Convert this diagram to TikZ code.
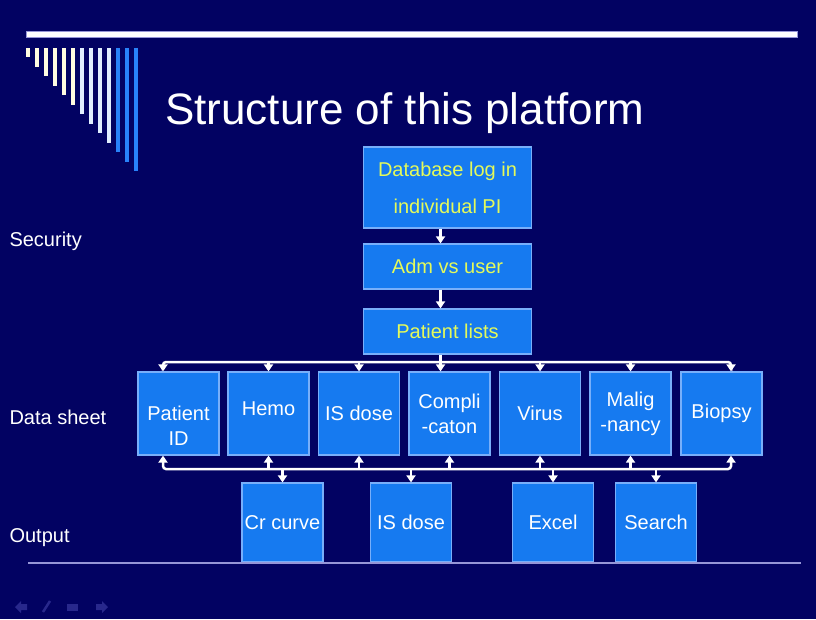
\documentclass[tikz,border=0pt]{standalone}
\usepackage{fontspec}
\setmainfont{Liberation Sans}
\usetikzlibrary{arrows.meta}

\definecolor{slidebg}{RGB}{2,2,98}
\definecolor{boxfill}{RGB}{22,122,240}
\definecolor{boxline}{RGB}{120,175,250}
\definecolor{boxtext}{RGB}{228,250,90}
\definecolor{rulecol}{RGB}{150,150,215}
\definecolor{stripecream}{RGB}{255,252,225}
\definecolor{stripepale}{RGB}{225,238,255}
\definecolor{stripeblue}{RGB}{40,130,250}
\definecolor{navicon}{RGB}{40,40,140}

\tikzset{
  topbox/.style={rectangle, draw=boxline, fill=boxfill, line width=1.2pt, minimum width=168pt,
    inner sep=0pt, text=boxtext, align=center, font=\fontsize{20}{37}\selectfont},
  sheet/.style={rectangle, draw=boxline, fill=boxfill, line width=1.2pt, minimum width=81pt,
    minimum height=83pt, inner sep=0pt, text=white, align=center, font=\fontsize{20}{25}\selectfont},
  outbox/.style={sheet, minimum height=79pt},
  side/.style={anchor=west, text=white, font=\fontsize{20}{24}\selectfont},
  link/.style={draw=white, line width=2.5pt, -{Triangle[width=9pt,length=7pt]}},
  bus/.style={draw=white, line width=2.5pt, rounded corners=3pt,
    {Triangle[width=9pt,length=7pt]}-{Triangle[width=9pt,length=7pt]}}
}

\begin{document}
\begin{tikzpicture}[x=1pt, y=-1pt]
  \useasboundingbox (0,0) rectangle (816,619);
  \fill[slidebg] (0,0) rectangle (816,619);
  % Header
  \filldraw[fill=white, draw=rulecol, line width=0.8pt] (26,31) rectangle (797,37);
  \foreach \i/\c in {0/stripecream, 1/stripecream, 2/stripecream, 3/stripecream, 4/stripecream,
      5/stripecream, 6/stripepale, 7/stripepale, 8/stripepale, 9/stripepale,
      10/stripeblue, 11/stripeblue, 12/stripeblue}
    \draw[\c, line width=4pt] (28+8.97*\i, 48) -- (28+8.97*\i, 57+9.5*\i);
  \node (title) [anchor=base west, text=white, font=\fontsize{44}{50}\selectfont, inner sep=0pt]
    at (165,124) {Structure of this platform};
  % Nodes
  \node (db) [topbox, minimum height=81pt] at (447.5,187.5) {Database log in\\individual PI};
  \node (adm) [topbox, minimum height=45pt] at (447.5,266.5) {Adm vs user};
  \node (lists) [topbox, minimum height=45pt] at (447.5,331.5) {Patient lists};
  \node (pid) [sheet, label={[text=white, align=center, font=\fontsize{20}{25}\selectfont, yshift=-12pt]center:Patient\\ID}] at (178.5,413.5) {};
  \node (hemo) [sheet, label={[text=white, font=\fontsize{20}{25}\selectfont, yshift=4.5pt]center:Hemo}] at (268.5,413.5) {};
  \node (isd) [sheet] at (359,413.5) {IS dose};
  \node (comp) [sheet] at (449.5,413.5) {Compli\\-caton};
  \node (virus) [sheet] at (540,413.5) {Virus};
  \node (malig) [sheet] at (630.5,413.5) {Malig\\-nancy};
  \node (bio) [sheet] at (721.5,413.5) {Biopsy};
  \node (crc) [outbox] at (282.5,522.5) {Cr curve};
  \node (isout) [outbox] at (411,522.5) {IS dose};
  \node (excel) [outbox] at (553,522.5) {Excel};
  \node (search) [outbox] at (656,522.5) {Search};
  \node (sec) [side] at (6,241) {Security};
  \node (data) [side] at (6,417) {Data sheet};
  \node (out) [side] at (6,538) {Output};
  \coordinate (tl) at (163,362);
  \coordinate (tr) at (731,362);
  \coordinate (bl) at (163,469);
  \coordinate (br) at (731,469);
  % Arrow
  \draw[link] ([xshift=-7pt]db.south) -- ([xshift=-7pt]adm.north);
  \draw[link] ([xshift=-7pt]adm.south) -- ([xshift=-7pt]lists.north);
  \draw[bus] (tl |- pid.north) -- (tl) -- (tr) -- (tr |- bio.north);
  \draw[link] (hemo.north |- tl) -- (hemo.north);
  \draw[link] (isd.north |- tl) -- (isd.north);
  \draw[link] ([xshift=-7pt]lists.south) -- ([xshift=-7pt]lists.south |- comp.north);
  \draw[link] (virus.north |- tl) -- (virus.north);
  \draw[link] (malig.north |- tl) -- (malig.north);
  \draw[bus] (bl |- pid.south) -- (bl) -- (br) -- (br |- bio.south);
  \draw[link] (hemo.south |- bl) -- (hemo.south);
  \draw[link] (isd.south |- bl) -- (isd.south);
  \draw[link] (comp.south |- bl) -- (comp.south);
  \draw[link] (virus.south |- bl) -- (virus.south);
  \draw[link] (malig.south |- bl) -- (malig.south);
  \draw[link] (crc.north |- bl) -- (crc.north);
  \draw[link] (isout.north |- bl) -- (isout.north);
  \draw[link] (excel.north |- bl) -- (excel.north);
  \draw[link] (search.north |- bl) -- (search.north);
  % Footer
  \draw[rulecol, line width=1.5pt] (28,563) -- (801,563);
  \fill[navicon] (15,607) -- (21,601) -- (21,604) -- (27,604) -- (27,610) -- (21,610) -- (21,613) -- cycle;
  \draw[navicon, line width=2.5pt] (43,612) -- (50,601);
  \fill[navicon] (67,604) rectangle (78,611);
  \fill[navicon] (108,607) -- (102,601) -- (102,604) -- (96,604) -- (96,610) -- (102,610) -- (102,613) -- cycle;
\end{tikzpicture}
\end{document}
